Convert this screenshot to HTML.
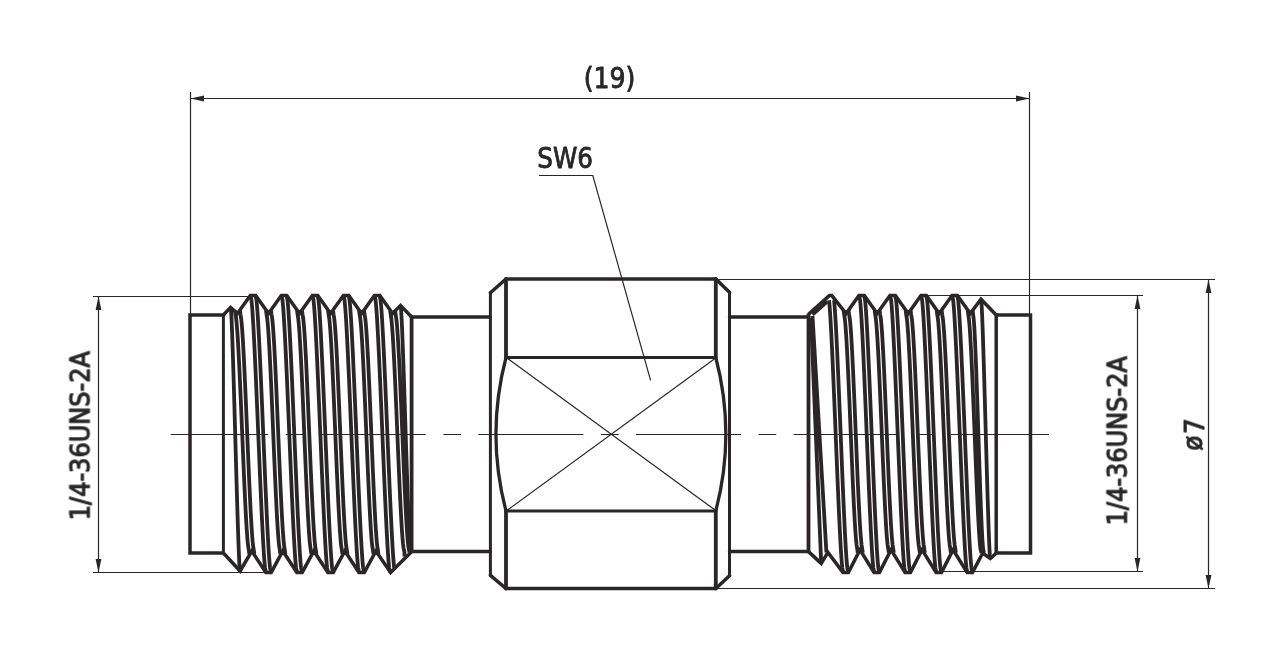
<!DOCTYPE html>
<html lang="en"><head><meta charset="utf-8"><title>Adapter drawing</title>
<style>html,body{margin:0;padding:0;background:#fff;}body{width:1265px;height:671px;overflow:hidden;}svg{display:block;}</style>
</head><body>
<svg width="1265" height="671" viewBox="0 0 1265 671">
<rect width="1265" height="671" fill="#fff"/>
<g fill="none" stroke="#2a2627" stroke-linejoin="miter" stroke-linecap="butt">
<g stroke-width="1.2">
<path d="M190.5,92 V314 M1029.5,92 V314 M190.5,98.5 H1029.5"/>
<path d="M93,296.5 H249 M93,572.5 H264 M98.5,296.5 V572.5"/>
<path d="M922.6,295.5 H1143 M942,571.5 H1143 M1137.5,295.5 V571.5"/>
<path d="M717,279.5 H1215 M717,588.5 H1215 M1208.5,279.5 V588.5"/>
<path d="M539,175.5 H592.8 L650.6,380.3"/>
<path d="M507.5,358.5 L715,510 M715,358.5 L507.5,510"/>
<path d="M170.7,434.5 H268.2 M285.8,434.5 H303.4 M320.8,434.5 H425.8 M443.4,434.5 H461.0 M478.4,434.5 H583.4 M601.0,434.5 H618.6 M636.0,434.5 H741.0 M758.6,434.5 H776.2 M793.6,434.5 H898.6 M916.2,434.5 H933.8 M951.2,434.5 H1049.0 "/>
</g>
<g fill="#2a2627" stroke="none">
<path d="M190.5,98.5 L204.0,95.6 L204.0,101.4 Z"/>
<path d="M1029.5,98.5 L1016.0,101.4 L1016.0,95.6 Z"/>
<path d="M98.5,296.5 L101.4,310.0 L95.6,310.0 Z"/>
<path d="M98.5,572.5 L95.6,559.0 L101.4,559.0 Z"/>
<path d="M1137.5,295.5 L1140.4,309.0 L1134.6,309.0 Z"/>
<path d="M1137.5,571.5 L1134.6,558.0 L1140.4,558.0 Z"/>
<path d="M1208.5,279.5 L1211.4,293.0 L1205.6,293.0 Z"/>
<path d="M1208.5,588.5 L1205.6,575.0 L1211.4,575.0 Z"/>
</g>
<g stroke-width="3.5" stroke-linecap="round">
<path d="M490.4,292.7 L506,279 H715.8 L729.5,292.2" />
<path d="M490.4,575.3 L506,588.6 H715.8 L729.5,575.8" />
<path d="M506,279 V357.5 M715.8,279 V357.5 M506,511 V588.6 M715.8,511 V588.6" stroke-width="3.8"/>
<path d="M490.4,292.7 V575.3 M729.5,292.2 V575.8" stroke-width="3"/>
<path d="M506,357.5 H715.8 M506,511 H715.8" stroke-width="2.8"/>
<path d="M506,357.5 A302.5,302.5 0 0 0 506,511 M715.8,357.5 A302.5,302.5 0 0 1 715.8,511" stroke-width="3.3"/>
<path d="M411.6,317 H490.4 M411.6,551.6 H490.4 M729.5,317 H808.5 M729.5,551.6 H808.5"/>
</g>
<g stroke-width="3.5" stroke-linejoin="miter" stroke-miterlimit="3">
<path d="M223.4,315 H190 V553 H223.4"/>
<path d="M223.4,315 V553" stroke-width="3"/>
<path d="M223.40,315.00 L230.60,307.40 L237.49,313.50 L250.30,295.60 L255.70,295.60 L268.51,313.50 L281.33,295.60 L286.73,295.60 L299.55,313.50 L312.36,295.60 L317.76,295.60 L330.58,313.50 L343.39,295.60 L348.79,295.60 L361.61,313.50 L374.42,295.60 L379.82,295.60 L392.63,313.50 L400.50,305.40 L411.60,317.00"/>
<path d="M223.40,553.00 L240.10,571.00 L251.80,551.00 L265.81,572.40 L271.21,572.40 L282.83,551.00 L296.84,572.40 L302.24,572.40 L313.86,551.00 L327.88,572.40 L333.27,572.40 L344.89,551.00 L358.91,572.40 L364.31,572.40 L375.92,551.00 L390.60,572.60 L411.80,551.60"/>
<path d="M411.6,317 V551.6" stroke-width="3.8"/>
<path d="M230.60,307.40 L231.13,311.80 L231.39,316.20 L231.61,320.60 L231.80,325.01 L231.98,329.41 L232.15,333.81 L232.31,338.21 L232.46,342.61 L232.61,347.01 L232.76,351.42 L232.90,355.82 L233.04,360.22 L233.18,364.62 L233.32,369.02 L233.45,373.42 L233.58,377.83 L233.71,382.23 L233.84,386.63 L233.97,391.03 L234.10,395.43 L234.23,399.83 L234.35,404.24 L234.48,408.64 L234.60,413.04 L234.73,417.44 L234.85,421.84 L234.98,426.25 L235.10,430.65 L235.23,435.05 L235.35,439.45 L235.47,443.85 L235.60,448.25 L235.72,452.65 L235.85,457.06 L235.97,461.46 L236.10,465.86 L236.22,470.26 L236.35,474.66 L236.47,479.06 L236.60,483.47 L236.73,487.87 L236.86,492.27 L236.99,496.67 L237.12,501.07 L237.25,505.48 L237.38,509.88 L237.52,514.28 L237.66,518.68 L237.80,523.08 L237.94,527.48 L238.09,531.88 L238.24,536.29 L238.39,540.69 L238.55,545.09 L238.72,549.49 L238.90,553.89 L239.09,558.29 L239.31,562.70 L239.57,567.10 L240.10,571.50 M234.96,310.50 L235.51,314.56 L236.17,318.62 L236.60,322.68 L236.95,326.73 L237.26,330.79 L237.54,334.85 L237.80,338.91 L238.04,342.97 L238.27,347.02 L238.49,351.08 L238.71,355.14 L238.92,359.20 L239.12,363.26 L239.31,367.32 L239.51,371.38 L239.70,375.43 L239.88,379.49 L240.07,383.55 L240.25,387.61 L240.42,391.67 L240.60,395.72 L240.78,399.78 L240.95,403.84 L241.12,407.90 L241.29,411.96 L241.46,416.02 L241.63,420.07 L241.80,424.13 L241.97,428.19 L242.14,432.25 L242.31,436.31 L242.48,440.37 L242.65,444.42 L242.82,448.48 L242.99,452.54 L243.16,456.60 L243.33,460.66 L243.51,464.72 L243.68,468.77 L243.86,472.83 L244.04,476.89 L244.22,480.95 L244.40,485.01 L244.59,489.07 L244.78,493.12 L244.97,497.18 L245.17,501.24 L245.37,505.30 L245.58,509.36 L245.79,513.42 L246.01,517.47 L246.25,521.53 L246.49,525.59 L246.75,529.65 L247.03,533.71 L247.33,537.77 L247.68,541.82 L248.11,545.88 L248.77,549.94 L249.33,554.00 M239.96,310.50 L240.51,314.56 L241.17,318.62 L241.60,322.68 L241.95,326.73 L242.26,330.79 L242.54,334.85 L242.80,338.91 L243.04,342.97 L243.27,347.02 L243.49,351.08 L243.71,355.14 L243.92,359.20 L244.12,363.26 L244.31,367.32 L244.51,371.38 L244.70,375.43 L244.88,379.49 L245.07,383.55 L245.25,387.61 L245.42,391.67 L245.60,395.72 L245.78,399.78 L245.95,403.84 L246.12,407.90 L246.29,411.96 L246.46,416.02 L246.63,420.07 L246.80,424.13 L246.97,428.19 L247.14,432.25 L247.31,436.31 L247.48,440.37 L247.65,444.42 L247.82,448.48 L247.99,452.54 L248.16,456.60 L248.33,460.66 L248.51,464.72 L248.68,468.77 L248.86,472.83 L249.04,476.89 L249.22,480.95 L249.40,485.01 L249.59,489.07 L249.78,493.12 L249.97,497.18 L250.17,501.24 L250.37,505.30 L250.58,509.36 L250.79,513.42 L251.01,517.47 L251.25,521.53 L251.49,525.59 L251.75,529.65 L252.03,533.71 L252.33,537.77 L252.68,541.82 L253.11,545.88 L253.77,549.94 L254.33,554.00 M265.99,310.50 L266.54,314.56 L267.20,318.62 L267.63,322.68 L267.98,326.73 L268.29,330.79 L268.57,334.85 L268.83,338.91 L269.07,342.97 L269.30,347.02 L269.52,351.08 L269.74,355.14 L269.95,359.20 L270.15,363.26 L270.34,367.32 L270.54,371.38 L270.73,375.43 L270.91,379.49 L271.10,383.55 L271.28,387.61 L271.45,391.67 L271.63,395.72 L271.81,399.78 L271.98,403.84 L272.15,407.90 L272.32,411.96 L272.49,416.02 L272.66,420.07 L272.83,424.13 L273.00,428.19 L273.17,432.25 L273.34,436.31 L273.51,440.37 L273.68,444.42 L273.85,448.48 L274.02,452.54 L274.19,456.60 L274.36,460.66 L274.54,464.72 L274.71,468.77 L274.89,472.83 L275.07,476.89 L275.25,480.95 L275.43,485.01 L275.62,489.07 L275.81,493.12 L276.00,497.18 L276.20,501.24 L276.40,505.30 L276.61,509.36 L276.82,513.42 L277.04,517.47 L277.28,521.53 L277.52,525.59 L277.78,529.65 L278.06,533.71 L278.36,537.77 L278.71,541.82 L279.14,545.88 L279.80,549.94 L280.36,554.00 M270.99,310.50 L271.54,314.56 L272.20,318.62 L272.63,322.68 L272.98,326.73 L273.29,330.79 L273.57,334.85 L273.83,338.91 L274.07,342.97 L274.30,347.02 L274.52,351.08 L274.74,355.14 L274.95,359.20 L275.15,363.26 L275.34,367.32 L275.54,371.38 L275.73,375.43 L275.91,379.49 L276.10,383.55 L276.28,387.61 L276.45,391.67 L276.63,395.72 L276.81,399.78 L276.98,403.84 L277.15,407.90 L277.32,411.96 L277.49,416.02 L277.66,420.07 L277.83,424.13 L278.00,428.19 L278.17,432.25 L278.34,436.31 L278.51,440.37 L278.68,444.42 L278.85,448.48 L279.02,452.54 L279.19,456.60 L279.36,460.66 L279.54,464.72 L279.71,468.77 L279.89,472.83 L280.07,476.89 L280.25,480.95 L280.43,485.01 L280.62,489.07 L280.81,493.12 L281.00,497.18 L281.20,501.24 L281.40,505.30 L281.61,509.36 L281.82,513.42 L282.04,517.47 L282.28,521.53 L282.52,525.59 L282.78,529.65 L283.06,533.71 L283.36,537.77 L283.71,541.82 L284.14,545.88 L284.80,549.94 L285.36,554.00 M297.02,310.50 L297.57,314.56 L298.23,318.62 L298.66,322.68 L299.01,326.73 L299.32,330.79 L299.60,334.85 L299.86,338.91 L300.10,342.97 L300.33,347.02 L300.55,351.08 L300.77,355.14 L300.98,359.20 L301.18,363.26 L301.37,367.32 L301.57,371.38 L301.76,375.43 L301.94,379.49 L302.13,383.55 L302.31,387.61 L302.48,391.67 L302.66,395.72 L302.84,399.78 L303.01,403.84 L303.18,407.90 L303.35,411.96 L303.52,416.02 L303.69,420.07 L303.86,424.13 L304.03,428.19 L304.20,432.25 L304.37,436.31 L304.54,440.37 L304.71,444.42 L304.88,448.48 L305.05,452.54 L305.22,456.60 L305.39,460.66 L305.57,464.72 L305.74,468.77 L305.92,472.83 L306.10,476.89 L306.28,480.95 L306.46,485.01 L306.65,489.07 L306.84,493.12 L307.03,497.18 L307.23,501.24 L307.43,505.30 L307.64,509.36 L307.85,513.42 L308.07,517.47 L308.31,521.53 L308.55,525.59 L308.81,529.65 L309.09,533.71 L309.39,537.77 L309.74,541.82 L310.17,545.88 L310.83,549.94 L311.39,554.00 M302.02,310.50 L302.57,314.56 L303.23,318.62 L303.66,322.68 L304.01,326.73 L304.32,330.79 L304.60,334.85 L304.86,338.91 L305.10,342.97 L305.33,347.02 L305.55,351.08 L305.77,355.14 L305.98,359.20 L306.18,363.26 L306.37,367.32 L306.57,371.38 L306.76,375.43 L306.94,379.49 L307.13,383.55 L307.31,387.61 L307.48,391.67 L307.66,395.72 L307.84,399.78 L308.01,403.84 L308.18,407.90 L308.35,411.96 L308.52,416.02 L308.69,420.07 L308.86,424.13 L309.03,428.19 L309.20,432.25 L309.37,436.31 L309.54,440.37 L309.71,444.42 L309.88,448.48 L310.05,452.54 L310.22,456.60 L310.39,460.66 L310.57,464.72 L310.74,468.77 L310.92,472.83 L311.10,476.89 L311.28,480.95 L311.46,485.01 L311.65,489.07 L311.84,493.12 L312.03,497.18 L312.23,501.24 L312.43,505.30 L312.64,509.36 L312.85,513.42 L313.07,517.47 L313.31,521.53 L313.55,525.59 L313.81,529.65 L314.09,533.71 L314.39,537.77 L314.74,541.82 L315.17,545.88 L315.83,549.94 L316.39,554.00 M328.05,310.50 L328.60,314.56 L329.26,318.62 L329.69,322.68 L330.04,326.73 L330.35,330.79 L330.63,334.85 L330.89,338.91 L331.13,342.97 L331.36,347.02 L331.58,351.08 L331.80,355.14 L332.01,359.20 L332.21,363.26 L332.40,367.32 L332.60,371.38 L332.79,375.43 L332.97,379.49 L333.16,383.55 L333.34,387.61 L333.51,391.67 L333.69,395.72 L333.87,399.78 L334.04,403.84 L334.21,407.90 L334.38,411.96 L334.55,416.02 L334.72,420.07 L334.89,424.13 L335.06,428.19 L335.23,432.25 L335.40,436.31 L335.57,440.37 L335.74,444.42 L335.91,448.48 L336.08,452.54 L336.25,456.60 L336.42,460.66 L336.60,464.72 L336.77,468.77 L336.95,472.83 L337.13,476.89 L337.31,480.95 L337.49,485.01 L337.68,489.07 L337.87,493.12 L338.06,497.18 L338.26,501.24 L338.46,505.30 L338.67,509.36 L338.88,513.42 L339.10,517.47 L339.34,521.53 L339.58,525.59 L339.84,529.65 L340.12,533.71 L340.42,537.77 L340.77,541.82 L341.20,545.88 L341.86,549.94 L342.42,554.00 M333.05,310.50 L333.60,314.56 L334.26,318.62 L334.69,322.68 L335.04,326.73 L335.35,330.79 L335.63,334.85 L335.89,338.91 L336.13,342.97 L336.36,347.02 L336.58,351.08 L336.80,355.14 L337.01,359.20 L337.21,363.26 L337.40,367.32 L337.60,371.38 L337.79,375.43 L337.97,379.49 L338.16,383.55 L338.34,387.61 L338.51,391.67 L338.69,395.72 L338.87,399.78 L339.04,403.84 L339.21,407.90 L339.38,411.96 L339.55,416.02 L339.72,420.07 L339.89,424.13 L340.06,428.19 L340.23,432.25 L340.40,436.31 L340.57,440.37 L340.74,444.42 L340.91,448.48 L341.08,452.54 L341.25,456.60 L341.42,460.66 L341.60,464.72 L341.77,468.77 L341.95,472.83 L342.13,476.89 L342.31,480.95 L342.49,485.01 L342.68,489.07 L342.87,493.12 L343.06,497.18 L343.26,501.24 L343.46,505.30 L343.67,509.36 L343.88,513.42 L344.10,517.47 L344.34,521.53 L344.58,525.59 L344.84,529.65 L345.12,533.71 L345.42,537.77 L345.77,541.82 L346.20,545.88 L346.86,549.94 L347.42,554.00 M359.08,310.50 L359.63,314.56 L360.29,318.62 L360.72,322.68 L361.07,326.73 L361.38,330.79 L361.66,334.85 L361.92,338.91 L362.16,342.97 L362.39,347.02 L362.61,351.08 L362.83,355.14 L363.04,359.20 L363.24,363.26 L363.43,367.32 L363.63,371.38 L363.82,375.43 L364.00,379.49 L364.19,383.55 L364.37,387.61 L364.54,391.67 L364.72,395.72 L364.90,399.78 L365.07,403.84 L365.24,407.90 L365.41,411.96 L365.58,416.02 L365.75,420.07 L365.92,424.13 L366.09,428.19 L366.26,432.25 L366.43,436.31 L366.60,440.37 L366.77,444.42 L366.94,448.48 L367.11,452.54 L367.28,456.60 L367.45,460.66 L367.63,464.72 L367.80,468.77 L367.98,472.83 L368.16,476.89 L368.34,480.95 L368.52,485.01 L368.71,489.07 L368.90,493.12 L369.09,497.18 L369.29,501.24 L369.49,505.30 L369.70,509.36 L369.91,513.42 L370.13,517.47 L370.37,521.53 L370.61,525.59 L370.87,529.65 L371.15,533.71 L371.45,537.77 L371.80,541.82 L372.23,545.88 L372.89,549.94 L373.45,554.00 M364.08,310.50 L364.63,314.56 L365.29,318.62 L365.72,322.68 L366.07,326.73 L366.38,330.79 L366.66,334.85 L366.92,338.91 L367.16,342.97 L367.39,347.02 L367.61,351.08 L367.83,355.14 L368.04,359.20 L368.24,363.26 L368.43,367.32 L368.63,371.38 L368.82,375.43 L369.00,379.49 L369.19,383.55 L369.37,387.61 L369.54,391.67 L369.72,395.72 L369.90,399.78 L370.07,403.84 L370.24,407.90 L370.41,411.96 L370.58,416.02 L370.75,420.07 L370.92,424.13 L371.09,428.19 L371.26,432.25 L371.43,436.31 L371.60,440.37 L371.77,444.42 L371.94,448.48 L372.11,452.54 L372.28,456.60 L372.45,460.66 L372.63,464.72 L372.80,468.77 L372.98,472.83 L373.16,476.89 L373.34,480.95 L373.52,485.01 L373.71,489.07 L373.90,493.12 L374.09,497.18 L374.29,501.24 L374.49,505.30 L374.70,509.36 L374.91,513.42 L375.13,517.47 L375.37,521.53 L375.61,525.59 L375.87,529.65 L376.15,533.71 L376.45,537.77 L376.80,541.82 L377.23,545.88 L377.89,549.94 L378.45,554.00 M390.11,310.50 L390.71,314.74 L391.37,318.98 L391.80,323.23 L392.16,327.47 L392.47,331.71 L392.76,335.95 L393.02,340.19 L393.27,344.43 L393.51,348.68 L393.74,352.92 L393.96,357.16 L394.18,361.40 L394.38,365.64 L394.59,369.88 L394.79,374.12 L394.98,378.37 L395.17,382.61 L395.36,386.85 L395.55,391.09 L395.73,395.33 L395.92,399.57 L396.10,403.82 L396.28,408.06 L396.46,412.30 L396.64,416.54 L396.81,420.78 L396.99,425.02 L397.17,429.27 L397.34,433.51 L397.52,437.75 L397.70,441.99 L397.88,446.23 L398.05,450.48 L398.23,454.72 L398.41,458.96 L398.59,463.20 L398.78,467.44 L398.96,471.68 L399.15,475.92 L399.33,480.17 L399.53,484.41 L399.72,488.65 L399.92,492.89 L400.12,497.13 L400.32,501.38 L400.54,505.62 L400.75,509.86 L400.98,514.10 L401.21,518.34 L401.46,522.58 L401.72,526.82 L401.99,531.07 L402.29,535.31 L402.63,539.55 L403.03,543.79 L403.56,548.03 L404.46,552.28 L404.50,556.52 M395.11,310.50 L395.71,314.74 L396.37,318.98 L396.80,323.23 L397.16,327.47 L397.47,331.71 L397.76,335.95 L398.02,340.19 L398.27,344.43 L398.51,348.68 L398.74,352.92 L398.96,357.16 L399.18,361.40 L399.38,365.64 L399.59,369.88 L399.79,374.12 L399.98,378.37 L400.17,382.61 L400.36,386.85 L400.55,391.09 L400.73,395.33 L400.92,399.57 L401.10,403.82 L401.28,408.06 L401.46,412.30 L401.64,416.54 L401.81,420.78 L401.99,425.02 L402.17,429.27 L402.34,433.51 L402.52,437.75 L402.70,441.99 L402.88,446.23 L403.05,450.48 L403.23,454.72 L403.41,458.96 L403.59,463.20 L403.78,467.44 L403.96,471.68 L404.15,475.92 L404.33,480.17 L404.53,484.41 L404.72,488.65 L404.92,492.89 L405.12,497.13 L405.32,501.38 L405.54,505.62 L405.75,509.86 L405.98,514.10 L406.21,518.34 L406.46,522.58 L406.72,526.82 L406.99,531.07 L407.29,535.31 L407.63,539.55 L408.03,543.79 L408.56,548.03 L409.46,552.28 M250.50,295.60 L251.47,300.21 L251.92,304.83 L252.29,309.44 L252.62,314.05 L252.91,318.67 L253.19,323.28 L253.45,327.89 L253.71,332.51 L253.95,337.12 L254.18,341.73 L254.41,346.35 L254.64,350.96 L254.86,355.57 L255.07,360.19 L255.28,364.80 L255.49,369.41 L255.70,374.03 L255.90,378.64 L256.11,383.25 L256.31,387.87 L256.51,392.48 L256.70,397.09 L256.90,401.71 L257.10,406.32 L257.29,410.93 L257.48,415.55 L257.68,420.16 L257.87,424.77 L258.06,429.39 L258.26,434.00 L258.45,438.61 L258.64,443.23 L258.84,447.84 L259.03,452.45 L259.22,457.07 L259.42,461.68 L259.61,466.29 L259.81,470.91 L260.01,475.52 L260.21,480.13 L260.41,484.75 L260.61,489.36 L260.82,493.97 L261.02,498.59 L261.23,503.20 L261.44,507.81 L261.66,512.43 L261.88,517.04 L262.10,521.65 L262.33,526.27 L262.57,530.88 L262.81,535.49 L263.06,540.11 L263.32,544.72 L263.60,549.33 L263.90,553.95 L264.22,558.56 L264.59,563.17 L265.04,567.79 L266.01,572.40 M255.50,295.60 L256.47,300.21 L256.92,304.83 L257.29,309.44 L257.62,314.05 L257.91,318.67 L258.19,323.28 L258.45,327.89 L258.71,332.51 L258.95,337.12 L259.18,341.73 L259.41,346.35 L259.64,350.96 L259.86,355.57 L260.07,360.19 L260.28,364.80 L260.49,369.41 L260.70,374.03 L260.90,378.64 L261.11,383.25 L261.31,387.87 L261.51,392.48 L261.70,397.09 L261.90,401.71 L262.10,406.32 L262.29,410.93 L262.48,415.55 L262.68,420.16 L262.87,424.77 L263.06,429.39 L263.26,434.00 L263.45,438.61 L263.64,443.23 L263.84,447.84 L264.03,452.45 L264.22,457.07 L264.42,461.68 L264.61,466.29 L264.81,470.91 L265.01,475.52 L265.21,480.13 L265.41,484.75 L265.61,489.36 L265.82,493.97 L266.02,498.59 L266.23,503.20 L266.44,507.81 L266.66,512.43 L266.88,517.04 L267.10,521.65 L267.33,526.27 L267.57,530.88 L267.81,535.49 L268.06,540.11 L268.32,544.72 L268.60,549.33 L268.90,553.95 L269.22,558.56 L269.59,563.17 L270.04,567.79 L271.01,572.40 M281.53,295.60 L282.50,300.21 L282.95,304.83 L283.32,309.44 L283.65,314.05 L283.94,318.67 L284.22,323.28 L284.48,327.89 L284.74,332.51 L284.98,337.12 L285.21,341.73 L285.44,346.35 L285.67,350.96 L285.89,355.57 L286.10,360.19 L286.31,364.80 L286.52,369.41 L286.73,374.03 L286.93,378.64 L287.14,383.25 L287.34,387.87 L287.54,392.48 L287.73,397.09 L287.93,401.71 L288.13,406.32 L288.32,410.93 L288.51,415.55 L288.71,420.16 L288.90,424.77 L289.09,429.39 L289.29,434.00 L289.48,438.61 L289.67,443.23 L289.87,447.84 L290.06,452.45 L290.25,457.07 L290.45,461.68 L290.64,466.29 L290.84,470.91 L291.04,475.52 L291.24,480.13 L291.44,484.75 L291.64,489.36 L291.85,493.97 L292.05,498.59 L292.26,503.20 L292.47,507.81 L292.69,512.43 L292.91,517.04 L293.13,521.65 L293.36,526.27 L293.60,530.88 L293.84,535.49 L294.09,540.11 L294.35,544.72 L294.63,549.33 L294.93,553.95 L295.25,558.56 L295.62,563.17 L296.07,567.79 L297.04,572.40 M286.53,295.60 L287.50,300.21 L287.95,304.83 L288.32,309.44 L288.65,314.05 L288.94,318.67 L289.22,323.28 L289.48,327.89 L289.74,332.51 L289.98,337.12 L290.21,341.73 L290.44,346.35 L290.67,350.96 L290.89,355.57 L291.10,360.19 L291.31,364.80 L291.52,369.41 L291.73,374.03 L291.93,378.64 L292.14,383.25 L292.34,387.87 L292.54,392.48 L292.73,397.09 L292.93,401.71 L293.13,406.32 L293.32,410.93 L293.51,415.55 L293.71,420.16 L293.90,424.77 L294.09,429.39 L294.29,434.00 L294.48,438.61 L294.67,443.23 L294.87,447.84 L295.06,452.45 L295.25,457.07 L295.45,461.68 L295.64,466.29 L295.84,470.91 L296.04,475.52 L296.24,480.13 L296.44,484.75 L296.64,489.36 L296.85,493.97 L297.05,498.59 L297.26,503.20 L297.47,507.81 L297.69,512.43 L297.91,517.04 L298.13,521.65 L298.36,526.27 L298.60,530.88 L298.84,535.49 L299.09,540.11 L299.35,544.72 L299.63,549.33 L299.93,553.95 L300.25,558.56 L300.62,563.17 L301.07,567.79 L302.04,572.40 M312.56,295.60 L313.53,300.21 L313.98,304.83 L314.35,309.44 L314.68,314.05 L314.97,318.67 L315.25,323.28 L315.51,327.89 L315.77,332.51 L316.01,337.12 L316.24,341.73 L316.47,346.35 L316.70,350.96 L316.92,355.57 L317.13,360.19 L317.34,364.80 L317.55,369.41 L317.76,374.03 L317.96,378.64 L318.17,383.25 L318.37,387.87 L318.57,392.48 L318.76,397.09 L318.96,401.71 L319.16,406.32 L319.35,410.93 L319.54,415.55 L319.74,420.16 L319.93,424.77 L320.12,429.39 L320.32,434.00 L320.51,438.61 L320.70,443.23 L320.90,447.84 L321.09,452.45 L321.28,457.07 L321.48,461.68 L321.67,466.29 L321.87,470.91 L322.07,475.52 L322.27,480.13 L322.47,484.75 L322.67,489.36 L322.88,493.97 L323.08,498.59 L323.29,503.20 L323.50,507.81 L323.72,512.43 L323.94,517.04 L324.16,521.65 L324.39,526.27 L324.63,530.88 L324.87,535.49 L325.12,540.11 L325.38,544.72 L325.66,549.33 L325.96,553.95 L326.28,558.56 L326.65,563.17 L327.10,567.79 L328.07,572.40 M317.56,295.60 L318.53,300.21 L318.98,304.83 L319.35,309.44 L319.68,314.05 L319.97,318.67 L320.25,323.28 L320.51,327.89 L320.77,332.51 L321.01,337.12 L321.24,341.73 L321.47,346.35 L321.70,350.96 L321.92,355.57 L322.13,360.19 L322.34,364.80 L322.55,369.41 L322.76,374.03 L322.96,378.64 L323.17,383.25 L323.37,387.87 L323.57,392.48 L323.76,397.09 L323.96,401.71 L324.16,406.32 L324.35,410.93 L324.54,415.55 L324.74,420.16 L324.93,424.77 L325.12,429.39 L325.32,434.00 L325.51,438.61 L325.70,443.23 L325.90,447.84 L326.09,452.45 L326.28,457.07 L326.48,461.68 L326.67,466.29 L326.87,470.91 L327.07,475.52 L327.27,480.13 L327.47,484.75 L327.67,489.36 L327.88,493.97 L328.08,498.59 L328.29,503.20 L328.50,507.81 L328.72,512.43 L328.94,517.04 L329.16,521.65 L329.39,526.27 L329.63,530.88 L329.87,535.49 L330.12,540.11 L330.38,544.72 L330.66,549.33 L330.96,553.95 L331.28,558.56 L331.65,563.17 L332.10,567.79 L333.07,572.40 M343.59,295.60 L344.56,300.21 L345.01,304.83 L345.38,309.44 L345.71,314.05 L346.00,318.67 L346.28,323.28 L346.54,327.89 L346.80,332.51 L347.04,337.12 L347.27,341.73 L347.50,346.35 L347.73,350.96 L347.95,355.57 L348.16,360.19 L348.37,364.80 L348.58,369.41 L348.79,374.03 L348.99,378.64 L349.20,383.25 L349.40,387.87 L349.60,392.48 L349.79,397.09 L349.99,401.71 L350.19,406.32 L350.38,410.93 L350.57,415.55 L350.77,420.16 L350.96,424.77 L351.15,429.39 L351.35,434.00 L351.54,438.61 L351.73,443.23 L351.93,447.84 L352.12,452.45 L352.31,457.07 L352.51,461.68 L352.70,466.29 L352.90,470.91 L353.10,475.52 L353.30,480.13 L353.50,484.75 L353.70,489.36 L353.91,493.97 L354.11,498.59 L354.32,503.20 L354.53,507.81 L354.75,512.43 L354.97,517.04 L355.19,521.65 L355.42,526.27 L355.66,530.88 L355.90,535.49 L356.15,540.11 L356.41,544.72 L356.69,549.33 L356.99,553.95 L357.31,558.56 L357.68,563.17 L358.13,567.79 L359.11,572.40 M348.59,295.60 L349.56,300.21 L350.01,304.83 L350.38,309.44 L350.71,314.05 L351.00,318.67 L351.28,323.28 L351.54,327.89 L351.80,332.51 L352.04,337.12 L352.27,341.73 L352.50,346.35 L352.73,350.96 L352.95,355.57 L353.16,360.19 L353.37,364.80 L353.58,369.41 L353.79,374.03 L353.99,378.64 L354.20,383.25 L354.40,387.87 L354.60,392.48 L354.79,397.09 L354.99,401.71 L355.19,406.32 L355.38,410.93 L355.57,415.55 L355.77,420.16 L355.96,424.77 L356.15,429.39 L356.35,434.00 L356.54,438.61 L356.73,443.23 L356.93,447.84 L357.12,452.45 L357.31,457.07 L357.51,461.68 L357.70,466.29 L357.90,470.91 L358.10,475.52 L358.30,480.13 L358.50,484.75 L358.70,489.36 L358.91,493.97 L359.11,498.59 L359.32,503.20 L359.53,507.81 L359.75,512.43 L359.97,517.04 L360.19,521.65 L360.42,526.27 L360.66,530.88 L360.90,535.49 L361.15,540.11 L361.41,544.72 L361.69,549.33 L361.99,553.95 L362.31,558.56 L362.68,563.17 L363.13,567.79 L364.11,572.40 M374.62,295.60 L375.59,300.21 L376.04,304.83 L376.41,309.44 L376.74,314.05 L377.03,318.67 L377.31,323.28 L377.57,327.89 L377.83,332.51 L378.07,337.12 L378.30,341.73 L378.53,346.35 L378.76,350.96 L378.98,355.57 L379.19,360.19 L379.40,364.80 L379.61,369.41 L379.82,374.03 L380.02,378.64 L380.23,383.25 L380.43,387.87 L380.63,392.48 L380.82,397.09 L381.02,401.71 L381.22,406.32 L381.41,410.93 L381.60,415.55 L381.80,420.16 L381.99,424.77 L382.18,429.39 L382.38,434.00 L382.57,438.61 L382.76,443.23 L382.96,447.84 L383.15,452.45 L383.34,457.07 L383.54,461.68 L383.73,466.29 L383.93,470.91 L384.13,475.52 L384.33,480.13 L384.53,484.75 L384.73,489.36 L384.94,493.97 L385.14,498.59 L385.35,503.20 L385.56,507.81 L385.78,512.43 L386.00,517.04 L386.22,521.65 L386.45,526.27 L386.69,530.88 L386.93,535.49 L387.18,540.11 L387.44,544.72 L387.72,549.33 L388.02,553.95 L388.34,558.56 L388.71,563.17 L389.16,567.79 L390.13,572.40 M379.62,295.60 L380.59,300.21 L381.04,304.83 L381.41,309.44 L381.74,314.05 L382.03,318.67 L382.31,323.28 L382.57,327.89 L382.83,332.51 L383.07,337.12 L383.30,341.73 L383.53,346.35 L383.76,350.96 L383.98,355.57 L384.19,360.19 L384.40,364.80 L384.61,369.41 L384.82,374.03 L385.02,378.64 L385.23,383.25 L385.43,387.87 L385.63,392.48 L385.82,397.09 L386.02,401.71 L386.22,406.32 L386.41,410.93 L386.60,415.55 L386.80,420.16 L386.99,424.77 L387.18,429.39 L387.38,434.00 L387.57,438.61 L387.76,443.23 L387.96,447.84 L388.15,452.45 L388.34,457.07 L388.54,461.68 L388.73,466.29 L388.93,470.91 L389.13,475.52 L389.33,480.13 L389.53,484.75 L389.73,489.36 L389.94,493.97 L390.14,498.59 L390.35,503.20 L390.56,507.81 L390.78,512.43 L391.00,517.04 L391.22,521.65 L391.45,526.27 L391.69,530.88 L391.93,535.49 L392.18,540.11 L392.44,544.72 L392.72,549.33 L393.02,553.95 L393.34,558.56 L393.71,563.17 L394.16,567.79 M400.50,305.40 L401.06,309.49 L401.33,313.59 L401.56,317.68 L401.76,321.77 L401.95,325.87 L402.13,329.96 L402.30,334.05 L402.46,338.15 L402.62,342.24 L402.77,346.33 L402.92,350.43 L403.07,354.52 L403.22,358.61 L403.36,362.71 L403.50,366.80 L403.64,370.89 L403.78,374.99 L403.91,379.08 L404.05,383.17 L404.18,387.27 L404.32,391.36 L404.45,395.45 L404.58,399.55 L404.72,403.64 L404.85,407.73 L404.98,411.83 L405.11,415.92 L405.24,420.01 L405.37,424.11 L405.50,428.20 L405.63,432.29 L405.76,436.39 L405.89,440.48 L406.02,444.57 L406.15,448.67 L406.28,452.76 L406.42,456.85 L406.55,460.95 L406.68,465.04 L406.82,469.13 L406.95,473.23 L407.09,477.32 L407.22,481.41 L407.36,485.51 L407.50,489.60 L407.64,493.69 L407.78,497.79 L407.93,501.88 L408.08,505.97 L408.23,510.07 L408.38,514.16 L408.54,518.25 L408.70,522.35 L408.87,526.44 L409.05,530.53 L409.24,534.63 L409.44,538.72 L409.67,542.81 L409.94,546.91 L410.50,551.00" stroke-width="3.8"/>
</g>
<g stroke-width="3.5" stroke-linejoin="miter" stroke-miterlimit="3">
<path d="M808.5,313.6 V551.6" stroke-width="3.8"/>
<path d="M812.6,314.8 L827.3,301.6"/>
<path d="M808.5,314.2 L829.40,295.6 L831.80,295.6 L846.12,313.50 L858.93,295.60 L864.33,295.60 L877.14,313.50 L889.96,295.60 L895.36,295.60 L908.18,313.50 L920.99,295.60 L926.39,295.60 L939.21,313.50 L952.02,295.60 L957.42,295.60 L970.24,313.50 L981.00,299.30 L996.20,315.00"/>
<path d="M996.2,315 H1030.5 V553 H996.4"/>
<path d="M996.2,315 V553" />
<path d="M808.50,551.60 L821.20,563.40 L827.90,552.40 L843.01,572.40 L848.42,572.40 L860.03,549.80 L874.04,572.40 L879.45,572.40 L891.06,549.80 L905.08,572.40 L910.48,572.40 L922.09,549.80 L936.11,572.40 L941.51,572.40 L953.12,549.80 L967.13,572.40 L972.54,572.40 L982.70,553.00 L990.30,558.50 L996.40,553.00"/>
<path d="M811.00,318.00 L811.17,322.09 L811.34,326.18 L811.51,330.27 L811.68,334.36 L811.85,338.45 L812.02,342.54 L812.19,346.63 L812.36,350.72 L812.53,354.81 L812.70,358.90 L812.87,362.99 L813.04,367.08 L813.21,371.17 L813.38,375.26 L813.55,379.35 L813.72,383.44 L813.89,387.53 L814.06,391.62 L814.23,395.71 L814.40,399.80 L814.57,403.89 L814.74,407.98 L814.91,412.07 L815.08,416.16 L815.25,420.25 L815.42,424.34 L815.59,428.43 L815.76,432.52 L815.93,436.61 L816.10,440.70 L816.27,444.79 L816.44,448.88 L816.61,452.97 L816.78,457.06 L816.95,461.15 L817.12,465.24 L817.29,469.33 L817.46,473.42 L817.63,477.51 L817.80,481.60 L817.97,485.69 L818.14,489.78 L818.31,493.87 L818.48,497.96 L818.65,502.05 L818.82,506.14 L818.99,510.23 L819.16,514.32 L819.33,518.41 L819.50,522.50 L819.67,526.59 L819.84,530.68 L820.01,534.77 L820.18,538.86 L820.35,542.95 L820.52,547.04 L820.69,551.13 L820.86,555.22 L821.03,559.31 L821.20,563.40 M812.50,316.00 L812.73,319.94 L812.96,323.88 L813.20,327.82 L813.43,331.76 L813.66,335.70 L813.89,339.64 L814.12,343.58 L814.35,347.52 L814.59,351.46 L814.82,355.40 L815.05,359.34 L815.28,363.28 L815.51,367.22 L815.74,371.16 L815.98,375.10 L816.21,379.04 L816.44,382.98 L816.67,386.92 L816.90,390.86 L817.13,394.80 L817.37,398.74 L817.60,402.68 L817.83,406.62 L818.06,410.56 L818.29,414.50 L818.52,418.44 L818.75,422.38 L818.99,426.32 L819.22,430.26 L819.45,434.20 L819.68,438.14 L819.91,442.08 L820.14,446.02 L820.38,449.96 L820.61,453.90 L820.84,457.84 L821.07,461.78 L821.30,465.72 L821.53,469.66 L821.77,473.60 L822.00,477.54 L822.23,481.48 L822.46,485.42 L822.69,489.36 L822.92,493.30 L823.16,497.24 L823.39,501.18 L823.62,505.12 L823.85,509.06 L824.08,513.00 L824.31,516.94 L824.55,520.88 L824.78,524.82 L825.01,528.76 L825.24,532.70 L825.47,536.64 L825.70,540.58 L825.94,544.52 L826.17,548.46 L826.40,552.40 M829.05,300.21 L829.49,304.83 L829.85,309.44 L830.16,314.05 L830.45,318.67 L830.72,323.28 L830.98,327.89 L831.22,332.51 L831.46,337.12 L831.69,341.73 L831.91,346.35 L832.13,350.96 L832.34,355.57 L832.55,360.19 L832.76,364.80 L832.96,369.41 L833.17,374.03 L833.36,378.64 L833.56,383.25 L833.76,387.87 L833.95,392.48 L834.14,397.09 L834.34,401.71 L834.53,406.32 L834.72,410.93 L834.90,415.55 L835.09,420.16 L835.28,424.77 L835.47,429.39 L835.66,434.00 L835.85,438.61 L836.03,443.23 L836.22,447.84 L836.41,452.45 L836.60,457.07 L836.79,461.68 L836.98,466.29 L837.17,470.91 L837.36,475.52 L837.56,480.13 L837.75,484.75 L837.95,489.36 L838.15,493.97 L838.35,498.59 L838.55,503.20 L838.76,507.81 L838.97,512.43 L839.19,517.04 L839.40,521.65 L839.63,526.27 L839.86,530.88 L840.09,535.49 L840.34,540.11 L840.59,544.72 L840.86,549.33 L841.15,553.95 L841.47,558.56 L841.83,563.17 L842.27,567.79 L843.22,572.40 M834.05,300.21 L834.49,304.83 L834.85,309.44 L835.16,314.05 L835.45,318.67 L835.72,323.28 L835.98,327.89 L836.22,332.51 L836.46,337.12 L836.69,341.73 L836.91,346.35 L837.13,350.96 L837.34,355.57 L837.55,360.19 L837.76,364.80 L837.96,369.41 L838.17,374.03 L838.36,378.64 L838.56,383.25 L838.76,387.87 L838.95,392.48 L839.14,397.09 L839.34,401.71 L839.53,406.32 L839.72,410.93 L839.90,415.55 L840.09,420.16 L840.28,424.77 L840.47,429.39 L840.66,434.00 L840.85,438.61 L841.03,443.23 L841.22,447.84 L841.41,452.45 L841.60,457.07 L841.79,461.68 L841.98,466.29 L842.17,470.91 L842.36,475.52 L842.56,480.13 L842.75,484.75 L842.95,489.36 L843.15,493.97 L843.35,498.59 L843.55,503.20 L843.76,507.81 L843.97,512.43 L844.19,517.04 L844.40,521.65 L844.63,526.27 L844.86,530.88 L845.09,535.49 L845.34,540.11 L845.59,544.72 L845.86,549.33 L846.15,553.95 L846.47,558.56 L846.83,563.17 L847.27,567.79 L848.22,572.40 M859.13,295.60 L860.08,300.21 L860.52,304.83 L860.88,309.44 L861.19,314.05 L861.48,318.67 L861.75,323.28 L862.01,327.89 L862.25,332.51 L862.49,337.12 L862.72,341.73 L862.94,346.35 L863.16,350.96 L863.37,355.57 L863.58,360.19 L863.79,364.80 L863.99,369.41 L864.20,374.03 L864.39,378.64 L864.59,383.25 L864.79,387.87 L864.98,392.48 L865.17,397.09 L865.37,401.71 L865.56,406.32 L865.75,410.93 L865.93,415.55 L866.12,420.16 L866.31,424.77 L866.50,429.39 L866.69,434.00 L866.88,438.61 L867.06,443.23 L867.25,447.84 L867.44,452.45 L867.63,457.07 L867.82,461.68 L868.01,466.29 L868.20,470.91 L868.39,475.52 L868.59,480.13 L868.78,484.75 L868.98,489.36 L869.18,493.97 L869.38,498.59 L869.58,503.20 L869.79,507.81 L870.00,512.43 L870.22,517.04 L870.43,521.65 L870.66,526.27 L870.89,530.88 L871.12,535.49 L871.37,540.11 L871.62,544.72 L871.89,549.33 L872.18,553.95 L872.50,558.56 L872.86,563.17 L873.30,567.79 L874.25,572.40 M864.13,295.60 L865.08,300.21 L865.52,304.83 L865.88,309.44 L866.19,314.05 L866.48,318.67 L866.75,323.28 L867.01,327.89 L867.25,332.51 L867.49,337.12 L867.72,341.73 L867.94,346.35 L868.16,350.96 L868.37,355.57 L868.58,360.19 L868.79,364.80 L868.99,369.41 L869.20,374.03 L869.39,378.64 L869.59,383.25 L869.79,387.87 L869.98,392.48 L870.17,397.09 L870.37,401.71 L870.56,406.32 L870.75,410.93 L870.93,415.55 L871.12,420.16 L871.31,424.77 L871.50,429.39 L871.69,434.00 L871.88,438.61 L872.06,443.23 L872.25,447.84 L872.44,452.45 L872.63,457.07 L872.82,461.68 L873.01,466.29 L873.20,470.91 L873.39,475.52 L873.59,480.13 L873.78,484.75 L873.98,489.36 L874.18,493.97 L874.38,498.59 L874.58,503.20 L874.79,507.81 L875.00,512.43 L875.22,517.04 L875.43,521.65 L875.66,526.27 L875.89,530.88 L876.12,535.49 L876.37,540.11 L876.62,544.72 L876.89,549.33 L877.18,553.95 L877.50,558.56 L877.86,563.17 L878.30,567.79 L879.25,572.40 M890.16,295.60 L891.11,300.21 L891.55,304.83 L891.91,309.44 L892.22,314.05 L892.51,318.67 L892.78,323.28 L893.04,327.89 L893.28,332.51 L893.52,337.12 L893.75,341.73 L893.97,346.35 L894.19,350.96 L894.40,355.57 L894.61,360.19 L894.82,364.80 L895.02,369.41 L895.23,374.03 L895.42,378.64 L895.62,383.25 L895.82,387.87 L896.01,392.48 L896.20,397.09 L896.40,401.71 L896.59,406.32 L896.78,410.93 L896.96,415.55 L897.15,420.16 L897.34,424.77 L897.53,429.39 L897.72,434.00 L897.91,438.61 L898.09,443.23 L898.28,447.84 L898.47,452.45 L898.66,457.07 L898.85,461.68 L899.04,466.29 L899.23,470.91 L899.42,475.52 L899.62,480.13 L899.81,484.75 L900.01,489.36 L900.21,493.97 L900.41,498.59 L900.61,503.20 L900.82,507.81 L901.03,512.43 L901.25,517.04 L901.46,521.65 L901.69,526.27 L901.92,530.88 L902.15,535.49 L902.40,540.11 L902.65,544.72 L902.92,549.33 L903.21,553.95 L903.53,558.56 L903.89,563.17 L904.33,567.79 L905.28,572.40 M895.16,295.60 L896.11,300.21 L896.55,304.83 L896.91,309.44 L897.22,314.05 L897.51,318.67 L897.78,323.28 L898.04,327.89 L898.28,332.51 L898.52,337.12 L898.75,341.73 L898.97,346.35 L899.19,350.96 L899.40,355.57 L899.61,360.19 L899.82,364.80 L900.02,369.41 L900.23,374.03 L900.42,378.64 L900.62,383.25 L900.82,387.87 L901.01,392.48 L901.20,397.09 L901.40,401.71 L901.59,406.32 L901.78,410.93 L901.96,415.55 L902.15,420.16 L902.34,424.77 L902.53,429.39 L902.72,434.00 L902.91,438.61 L903.09,443.23 L903.28,447.84 L903.47,452.45 L903.66,457.07 L903.85,461.68 L904.04,466.29 L904.23,470.91 L904.42,475.52 L904.62,480.13 L904.81,484.75 L905.01,489.36 L905.21,493.97 L905.41,498.59 L905.61,503.20 L905.82,507.81 L906.03,512.43 L906.25,517.04 L906.46,521.65 L906.69,526.27 L906.92,530.88 L907.15,535.49 L907.40,540.11 L907.65,544.72 L907.92,549.33 L908.21,553.95 L908.53,558.56 L908.89,563.17 L909.33,567.79 L910.28,572.40 M921.19,295.60 L922.14,300.21 L922.58,304.83 L922.94,309.44 L923.25,314.05 L923.54,318.67 L923.81,323.28 L924.07,327.89 L924.31,332.51 L924.55,337.12 L924.78,341.73 L925.00,346.35 L925.22,350.96 L925.43,355.57 L925.64,360.19 L925.85,364.80 L926.05,369.41 L926.26,374.03 L926.45,378.64 L926.65,383.25 L926.85,387.87 L927.04,392.48 L927.23,397.09 L927.43,401.71 L927.62,406.32 L927.81,410.93 L927.99,415.55 L928.18,420.16 L928.37,424.77 L928.56,429.39 L928.75,434.00 L928.94,438.61 L929.12,443.23 L929.31,447.84 L929.50,452.45 L929.69,457.07 L929.88,461.68 L930.07,466.29 L930.26,470.91 L930.45,475.52 L930.65,480.13 L930.84,484.75 L931.04,489.36 L931.24,493.97 L931.44,498.59 L931.64,503.20 L931.85,507.81 L932.06,512.43 L932.28,517.04 L932.49,521.65 L932.72,526.27 L932.95,530.88 L933.18,535.49 L933.43,540.11 L933.68,544.72 L933.95,549.33 L934.24,553.95 L934.56,558.56 L934.92,563.17 L935.36,567.79 L936.31,572.40 M926.19,295.60 L927.14,300.21 L927.58,304.83 L927.94,309.44 L928.25,314.05 L928.54,318.67 L928.81,323.28 L929.07,327.89 L929.31,332.51 L929.55,337.12 L929.78,341.73 L930.00,346.35 L930.22,350.96 L930.43,355.57 L930.64,360.19 L930.85,364.80 L931.05,369.41 L931.26,374.03 L931.45,378.64 L931.65,383.25 L931.85,387.87 L932.04,392.48 L932.23,397.09 L932.43,401.71 L932.62,406.32 L932.81,410.93 L932.99,415.55 L933.18,420.16 L933.37,424.77 L933.56,429.39 L933.75,434.00 L933.94,438.61 L934.12,443.23 L934.31,447.84 L934.50,452.45 L934.69,457.07 L934.88,461.68 L935.07,466.29 L935.26,470.91 L935.45,475.52 L935.65,480.13 L935.84,484.75 L936.04,489.36 L936.24,493.97 L936.44,498.59 L936.64,503.20 L936.85,507.81 L937.06,512.43 L937.28,517.04 L937.49,521.65 L937.72,526.27 L937.95,530.88 L938.18,535.49 L938.43,540.11 L938.68,544.72 L938.95,549.33 L939.24,553.95 L939.56,558.56 L939.92,563.17 L940.36,567.79 L941.31,572.40 M952.22,295.60 L953.17,300.21 L953.61,304.83 L953.97,309.44 L954.28,314.05 L954.57,318.67 L954.84,323.28 L955.10,327.89 L955.34,332.51 L955.58,337.12 L955.81,341.73 L956.03,346.35 L956.25,350.96 L956.46,355.57 L956.67,360.19 L956.88,364.80 L957.08,369.41 L957.29,374.03 L957.48,378.64 L957.68,383.25 L957.88,387.87 L958.07,392.48 L958.26,397.09 L958.46,401.71 L958.65,406.32 L958.84,410.93 L959.02,415.55 L959.21,420.16 L959.40,424.77 L959.59,429.39 L959.78,434.00 L959.97,438.61 L960.15,443.23 L960.34,447.84 L960.53,452.45 L960.72,457.07 L960.91,461.68 L961.10,466.29 L961.29,470.91 L961.48,475.52 L961.68,480.13 L961.87,484.75 L962.07,489.36 L962.27,493.97 L962.47,498.59 L962.67,503.20 L962.88,507.81 L963.09,512.43 L963.31,517.04 L963.52,521.65 L963.75,526.27 L963.98,530.88 L964.21,535.49 L964.46,540.11 L964.71,544.72 L964.98,549.33 L965.27,553.95 L965.59,558.56 L965.95,563.17 L966.39,567.79 L967.34,572.40 M957.22,295.60 L958.17,300.21 L958.61,304.83 L958.97,309.44 L959.28,314.05 L959.57,318.67 L959.84,323.28 L960.10,327.89 L960.34,332.51 L960.58,337.12 L960.81,341.73 L961.03,346.35 L961.25,350.96 L961.46,355.57 L961.67,360.19 L961.88,364.80 L962.08,369.41 L962.29,374.03 L962.48,378.64 L962.68,383.25 L962.88,387.87 L963.07,392.48 L963.26,397.09 L963.46,401.71 L963.65,406.32 L963.84,410.93 L964.02,415.55 L964.21,420.16 L964.40,424.77 L964.59,429.39 L964.78,434.00 L964.97,438.61 L965.15,443.23 L965.34,447.84 L965.53,452.45 L965.72,457.07 L965.91,461.68 L966.10,466.29 L966.29,470.91 L966.48,475.52 L966.68,480.13 L966.87,484.75 L967.07,489.36 L967.27,493.97 L967.47,498.59 L967.67,503.20 L967.88,507.81 L968.09,512.43 L968.31,517.04 L968.52,521.65 L968.75,526.27 L968.98,530.88 L969.21,535.49 L969.46,540.11 L969.71,544.72 L969.98,549.33 L970.27,553.95 L970.59,558.56 L970.95,563.17 L971.39,567.79 L972.34,572.40 M843.59,310.50 L844.13,314.54 L844.78,318.58 L845.21,322.62 L845.55,326.65 L845.86,330.69 L846.13,334.73 L846.39,338.77 L846.63,342.81 L846.86,346.84 L847.07,350.88 L847.29,354.92 L847.49,358.96 L847.69,363.00 L847.88,367.04 L848.07,371.07 L848.26,375.11 L848.44,379.15 L848.62,383.19 L848.80,387.23 L848.98,391.27 L849.15,395.30 L849.33,399.34 L849.50,403.38 L849.67,407.42 L849.84,411.46 L850.00,415.50 L850.17,419.53 L850.34,423.57 L850.51,427.61 L850.67,431.65 L850.84,435.69 L851.01,439.73 L851.17,443.76 L851.34,447.80 L851.51,451.84 L851.68,455.88 L851.85,459.92 L852.02,463.96 L852.19,467.99 L852.37,472.03 L852.54,476.07 L852.72,480.11 L852.90,484.15 L853.08,488.19 L853.27,492.22 L853.46,496.26 L853.66,500.30 L853.85,504.34 L854.06,508.38 L854.27,512.42 L854.49,516.45 L854.72,520.49 L854.96,524.53 L855.21,528.57 L855.49,532.61 L855.79,536.65 L856.14,540.68 L856.56,544.72 L857.21,548.76 L857.76,552.80 M848.59,310.50 L849.13,314.54 L849.78,318.58 L850.21,322.62 L850.55,326.65 L850.86,330.69 L851.13,334.73 L851.39,338.77 L851.63,342.81 L851.86,346.84 L852.07,350.88 L852.29,354.92 L852.49,358.96 L852.69,363.00 L852.88,367.04 L853.07,371.07 L853.26,375.11 L853.44,379.15 L853.62,383.19 L853.80,387.23 L853.98,391.27 L854.15,395.30 L854.33,399.34 L854.50,403.38 L854.67,407.42 L854.84,411.46 L855.00,415.50 L855.17,419.53 L855.34,423.57 L855.51,427.61 L855.67,431.65 L855.84,435.69 L856.01,439.73 L856.17,443.76 L856.34,447.80 L856.51,451.84 L856.68,455.88 L856.85,459.92 L857.02,463.96 L857.19,467.99 L857.37,472.03 L857.54,476.07 L857.72,480.11 L857.90,484.15 L858.08,488.19 L858.27,492.22 L858.46,496.26 L858.66,500.30 L858.85,504.34 L859.06,508.38 L859.27,512.42 L859.49,516.45 L859.72,520.49 L859.96,524.53 L860.21,528.57 L860.49,532.61 L860.79,536.65 L861.14,540.68 L861.56,544.72 L862.21,548.76 L862.76,552.80 M874.62,310.50 L875.16,314.54 L875.81,318.58 L876.24,322.62 L876.58,326.65 L876.89,330.69 L877.16,334.73 L877.42,338.77 L877.66,342.81 L877.89,346.84 L878.10,350.88 L878.32,354.92 L878.52,358.96 L878.72,363.00 L878.91,367.04 L879.10,371.07 L879.29,375.11 L879.47,379.15 L879.65,383.19 L879.83,387.23 L880.01,391.27 L880.18,395.30 L880.36,399.34 L880.53,403.38 L880.70,407.42 L880.87,411.46 L881.03,415.50 L881.20,419.53 L881.37,423.57 L881.54,427.61 L881.70,431.65 L881.87,435.69 L882.04,439.73 L882.20,443.76 L882.37,447.80 L882.54,451.84 L882.71,455.88 L882.88,459.92 L883.05,463.96 L883.22,467.99 L883.40,472.03 L883.57,476.07 L883.75,480.11 L883.93,484.15 L884.11,488.19 L884.30,492.22 L884.49,496.26 L884.69,500.30 L884.88,504.34 L885.09,508.38 L885.30,512.42 L885.52,516.45 L885.75,520.49 L885.99,524.53 L886.24,528.57 L886.52,532.61 L886.82,536.65 L887.17,540.68 L887.59,544.72 L888.24,548.76 L888.79,552.80 M879.62,310.50 L880.16,314.54 L880.81,318.58 L881.24,322.62 L881.58,326.65 L881.89,330.69 L882.16,334.73 L882.42,338.77 L882.66,342.81 L882.89,346.84 L883.10,350.88 L883.32,354.92 L883.52,358.96 L883.72,363.00 L883.91,367.04 L884.10,371.07 L884.29,375.11 L884.47,379.15 L884.65,383.19 L884.83,387.23 L885.01,391.27 L885.18,395.30 L885.36,399.34 L885.53,403.38 L885.70,407.42 L885.87,411.46 L886.03,415.50 L886.20,419.53 L886.37,423.57 L886.54,427.61 L886.70,431.65 L886.87,435.69 L887.04,439.73 L887.20,443.76 L887.37,447.80 L887.54,451.84 L887.71,455.88 L887.88,459.92 L888.05,463.96 L888.22,467.99 L888.40,472.03 L888.57,476.07 L888.75,480.11 L888.93,484.15 L889.11,488.19 L889.30,492.22 L889.49,496.26 L889.69,500.30 L889.88,504.34 L890.09,508.38 L890.30,512.42 L890.52,516.45 L890.75,520.49 L890.99,524.53 L891.24,528.57 L891.52,532.61 L891.82,536.65 L892.17,540.68 L892.59,544.72 L893.24,548.76 L893.79,552.80 M905.65,310.50 L906.19,314.54 L906.84,318.58 L907.27,322.62 L907.61,326.65 L907.92,330.69 L908.19,334.73 L908.45,338.77 L908.69,342.81 L908.92,346.84 L909.13,350.88 L909.35,354.92 L909.55,358.96 L909.75,363.00 L909.94,367.04 L910.13,371.07 L910.32,375.11 L910.50,379.15 L910.68,383.19 L910.86,387.23 L911.04,391.27 L911.21,395.30 L911.39,399.34 L911.56,403.38 L911.73,407.42 L911.90,411.46 L912.06,415.50 L912.23,419.53 L912.40,423.57 L912.57,427.61 L912.73,431.65 L912.90,435.69 L913.07,439.73 L913.23,443.76 L913.40,447.80 L913.57,451.84 L913.74,455.88 L913.91,459.92 L914.08,463.96 L914.25,467.99 L914.43,472.03 L914.60,476.07 L914.78,480.11 L914.96,484.15 L915.14,488.19 L915.33,492.22 L915.52,496.26 L915.72,500.30 L915.91,504.34 L916.12,508.38 L916.33,512.42 L916.55,516.45 L916.78,520.49 L917.02,524.53 L917.27,528.57 L917.55,532.61 L917.85,536.65 L918.20,540.68 L918.62,544.72 L919.27,548.76 L919.82,552.80 M910.65,310.50 L911.19,314.54 L911.84,318.58 L912.27,322.62 L912.61,326.65 L912.92,330.69 L913.19,334.73 L913.45,338.77 L913.69,342.81 L913.92,346.84 L914.13,350.88 L914.35,354.92 L914.55,358.96 L914.75,363.00 L914.94,367.04 L915.13,371.07 L915.32,375.11 L915.50,379.15 L915.68,383.19 L915.86,387.23 L916.04,391.27 L916.21,395.30 L916.39,399.34 L916.56,403.38 L916.73,407.42 L916.90,411.46 L917.06,415.50 L917.23,419.53 L917.40,423.57 L917.57,427.61 L917.73,431.65 L917.90,435.69 L918.07,439.73 L918.23,443.76 L918.40,447.80 L918.57,451.84 L918.74,455.88 L918.91,459.92 L919.08,463.96 L919.25,467.99 L919.43,472.03 L919.60,476.07 L919.78,480.11 L919.96,484.15 L920.14,488.19 L920.33,492.22 L920.52,496.26 L920.72,500.30 L920.91,504.34 L921.12,508.38 L921.33,512.42 L921.55,516.45 L921.78,520.49 L922.02,524.53 L922.27,528.57 L922.55,532.61 L922.85,536.65 L923.20,540.68 L923.62,544.72 L924.27,548.76 L924.82,552.80 M936.68,310.50 L937.22,314.54 L937.87,318.58 L938.30,322.62 L938.64,326.65 L938.95,330.69 L939.22,334.73 L939.48,338.77 L939.72,342.81 L939.95,346.84 L940.16,350.88 L940.38,354.92 L940.58,358.96 L940.78,363.00 L940.97,367.04 L941.16,371.07 L941.35,375.11 L941.53,379.15 L941.71,383.19 L941.89,387.23 L942.07,391.27 L942.24,395.30 L942.42,399.34 L942.59,403.38 L942.76,407.42 L942.93,411.46 L943.09,415.50 L943.26,419.53 L943.43,423.57 L943.60,427.61 L943.76,431.65 L943.93,435.69 L944.10,439.73 L944.26,443.76 L944.43,447.80 L944.60,451.84 L944.77,455.88 L944.94,459.92 L945.11,463.96 L945.28,467.99 L945.46,472.03 L945.63,476.07 L945.81,480.11 L945.99,484.15 L946.17,488.19 L946.36,492.22 L946.55,496.26 L946.75,500.30 L946.94,504.34 L947.15,508.38 L947.36,512.42 L947.58,516.45 L947.81,520.49 L948.05,524.53 L948.30,528.57 L948.58,532.61 L948.88,536.65 L949.23,540.68 L949.65,544.72 L950.30,548.76 L950.85,552.80 M941.68,310.50 L942.22,314.54 L942.87,318.58 L943.30,322.62 L943.64,326.65 L943.95,330.69 L944.22,334.73 L944.48,338.77 L944.72,342.81 L944.95,346.84 L945.16,350.88 L945.38,354.92 L945.58,358.96 L945.78,363.00 L945.97,367.04 L946.16,371.07 L946.35,375.11 L946.53,379.15 L946.71,383.19 L946.89,387.23 L947.07,391.27 L947.24,395.30 L947.42,399.34 L947.59,403.38 L947.76,407.42 L947.93,411.46 L948.09,415.50 L948.26,419.53 L948.43,423.57 L948.60,427.61 L948.76,431.65 L948.93,435.69 L949.10,439.73 L949.26,443.76 L949.43,447.80 L949.60,451.84 L949.77,455.88 L949.94,459.92 L950.11,463.96 L950.28,467.99 L950.46,472.03 L950.63,476.07 L950.81,480.11 L950.99,484.15 L951.17,488.19 L951.36,492.22 L951.55,496.26 L951.75,500.30 L951.94,504.34 L952.15,508.38 L952.36,512.42 L952.58,516.45 L952.81,520.49 L953.05,524.53 L953.30,528.57 L953.58,532.61 L953.88,536.65 L954.23,540.68 L954.65,544.72 L955.30,548.76 L955.85,552.80 M967.71,310.50 L968.23,314.54 L968.86,318.58 L969.27,322.62 L969.60,326.67 L969.90,330.71 L970.16,334.75 L970.41,338.79 L970.64,342.83 L970.86,346.88 L971.07,350.92 L971.28,354.96 L971.47,359.00 L971.66,363.04 L971.85,367.08 L972.03,371.12 L972.21,375.17 L972.39,379.21 L972.56,383.25 L972.74,387.29 L972.91,391.33 L973.07,395.38 L973.24,399.42 L973.40,403.46 L973.57,407.50 L973.73,411.54 L973.89,415.58 L974.05,419.62 L974.21,423.67 L974.37,427.71 L974.53,431.75 L974.69,435.79 L974.85,439.83 L975.01,443.88 L975.17,447.92 L975.34,451.96 L975.50,456.00 L975.66,460.04 L975.82,464.08 L975.99,468.12 L976.16,472.17 L976.32,476.21 L976.49,480.25 L976.66,484.29 L976.84,488.33 L977.02,492.38 L977.20,496.42 L977.38,500.46 L977.57,504.50 L977.76,508.54 L977.96,512.58 L978.17,516.62 L978.38,520.67 L978.60,524.71 L978.84,528.75 L979.09,532.79 L979.36,536.83 L979.66,540.88 L980.01,544.92 L980.45,548.96 L981.45,553.00 M972.71,310.50 L973.14,314.54 L973.66,318.58 L973.99,322.62 L974.26,326.67 L974.50,330.71 L974.72,334.75 L974.92,338.79 L975.11,342.83 L975.29,346.88 L975.46,350.92 L975.63,354.96 L975.79,359.00 L975.95,363.04 L976.10,367.08 L976.25,371.12 L976.40,375.17 L976.54,379.21 L976.68,383.25 L976.82,387.29 L976.96,391.33 L977.10,395.38 L977.24,399.42 L977.37,403.46 L977.50,407.50 L977.64,411.54 L977.77,415.58 L977.90,419.62 L978.03,423.67 L978.16,427.71 L978.29,431.75 L978.42,435.79 L978.56,439.83 L978.69,443.88 L978.82,447.92 L978.95,451.96 L979.08,456.00 L979.22,460.04 L979.35,464.08 L979.48,468.12 L979.62,472.17 L979.76,476.21 L979.90,480.25 L980.04,484.29 L980.18,488.33 L980.32,492.38 L980.47,496.42 L980.62,500.46 L980.78,504.50 L980.93,508.54 L981.10,512.58 L981.27,516.62 L981.44,520.67 L981.62,524.71 L981.81,528.75 L982.02,532.79 L982.24,536.83 L982.49,540.88 L982.77,544.92 L983.13,548.96 L983.95,553.00 M981.00,299.30 L981.52,303.62 L981.78,307.94 L981.99,312.26 L982.18,316.58 L982.35,320.90 L982.51,325.22 L982.67,329.54 L982.82,333.86 L982.97,338.18 L983.11,342.50 L983.25,346.82 L983.39,351.14 L983.53,355.46 L983.66,359.78 L983.79,364.10 L983.92,368.42 L984.05,372.74 L984.18,377.06 L984.30,381.38 L984.43,385.70 L984.55,390.02 L984.67,394.34 L984.80,398.66 L984.92,402.98 L985.04,407.30 L985.16,411.62 L985.29,415.94 L985.41,420.26 L985.53,424.58 L985.65,428.90 L985.77,433.22 L985.89,437.54 L986.01,441.86 L986.14,446.18 L986.26,450.50 L986.38,454.82 L986.50,459.14 L986.63,463.46 L986.75,467.78 L986.87,472.10 L987.00,476.42 L987.12,480.74 L987.25,485.06 L987.38,489.38 L987.51,493.70 L987.64,498.02 L987.77,502.34 L987.91,506.66 L988.05,510.98 L988.19,515.30 L988.33,519.62 L988.48,523.94 L988.63,528.26 L988.79,532.58 L988.95,536.90 L989.12,541.22 L989.31,545.54 L989.52,549.86 L989.78,554.18 L990.30,558.50" stroke-width="3.8"/>
</g>
</g>
<g fill="#2a2627" stroke="#2a2627" stroke-width="0.8" stroke-linejoin="round" style="filter:grayscale(1)" font-family="'DejaVu Sans Condensed', 'Liberation Sans', sans-serif" font-size="28">
<text x="583.7" y="88.1" textLength="51.7" lengthAdjust="spacingAndGlyphs">(19)</text>
<text x="537.3" y="168.1" textLength="55.6" lengthAdjust="spacingAndGlyphs">SW6</text>
<text transform="translate(89.5,520.3) rotate(-90)" font-size="26.6" stroke-width="1.05" textLength="169.2" lengthAdjust="spacingAndGlyphs">1/4-36UNS-2A</text>
<text transform="translate(1126.7,525.4) rotate(-90)" font-size="26.6" stroke-width="1.05" textLength="169.2" lengthAdjust="spacingAndGlyphs">1/4-36UNS-2A</text>
<text transform="translate(1204.0,450.6) rotate(-90)" font-size="27.2" stroke-width="1.0"><tspan dy="-2.4">ø</tspan><tspan dy="2.4" dx="1.8">7</tspan></text>
</g>
</svg>
</body></html>
